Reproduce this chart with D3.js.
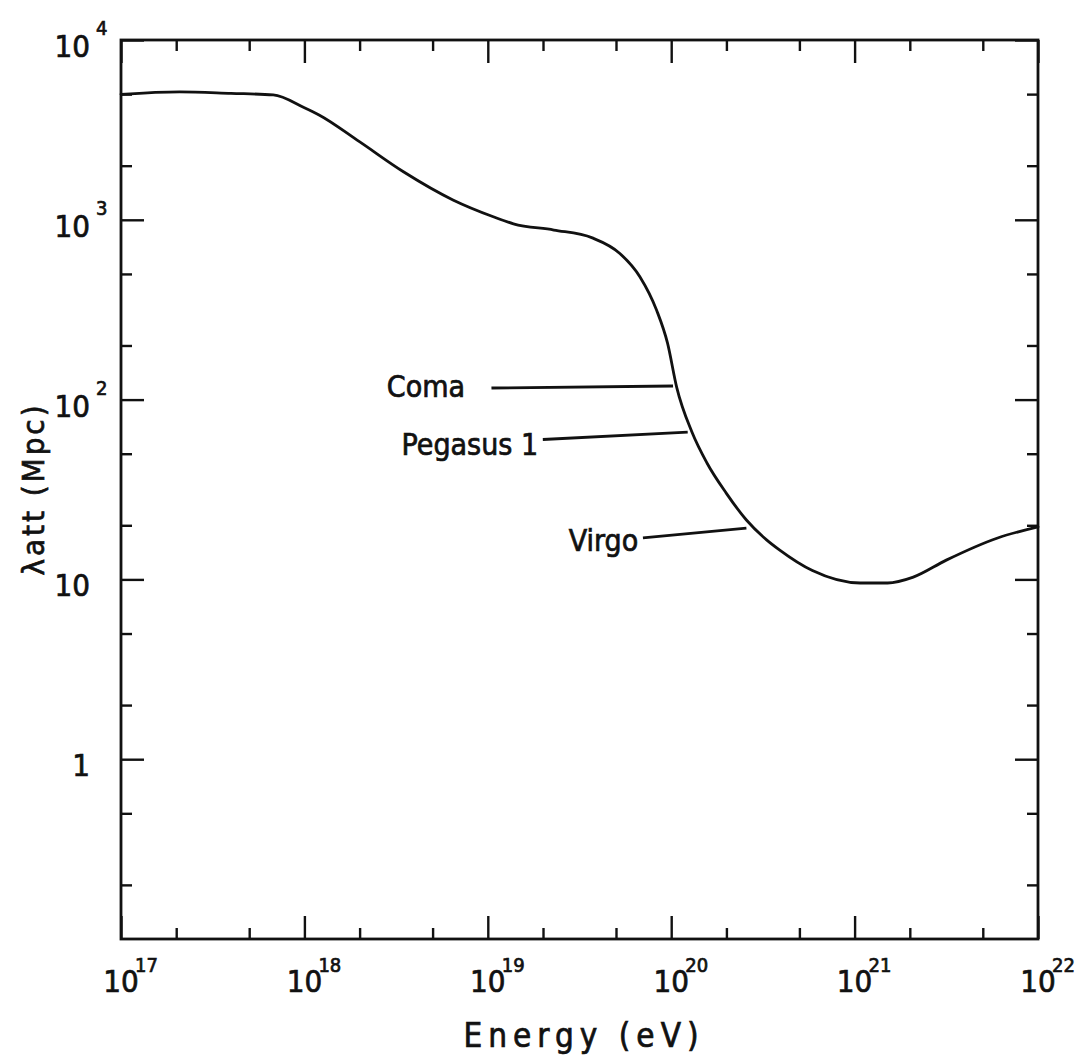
<!DOCTYPE html>
<html>
<head>
<meta charset="utf-8">
<script src="https://cdn.jsdelivr.net/npm/d3@7/dist/d3.min.js"></script>
<style>
  html, body { margin: 0; padding: 0; background: #fff; }
  svg { display: block; }
  text { font-family: "Liberation Sans Narrow", "DejaVu Sans Condensed", "Liberation Sans", sans-serif; fill: #111; stroke: #111; stroke-width: 0.7px; }
</style>
</head>
<body>
<svg id="chart" width="1088" height="1057"></svg>
<script>
// ---- data ----
const logEnergy = [17.0, 17.32, 17.6, 17.83, 18.0, 18.08, 18.30, 18.54, 18.81, 19.03, 19.14, 19.36, 19.57, 19.72, 19.83, 19.92, 19.98, 20.03, 20.113, 20.195, 20.30, 20.41, 20.52, 20.59, 20.77, 21.03, 21.18, 21.32, 21.50, 21.78, 22.0];
const lambdaMpc = [4990, 5150, 5050, 4950, 4200, 3830, 2720, 1850, 1290, 1040, 950, 877, 793, 650, 481, 315, 206, 117, 66, 44.4, 30.2, 21.4, 16.6, 14.6, 11.2, 9.55, 9.55, 10.3, 12.8, 17, 19.6];

const xTickExponents = [17, 18, 19, 20, 21, 22];
const xTickBase = ["10", "10", "10", "10", "10", "10"];
const xTickSup = ["17", "18", "19", "20", "21", "22"];
const xMinorMantissas = [2, 5];

const yTickValues = [1, 10, 100, 1000, 10000];
const yTickBase = ["1", "10", "10", "10", "10"];
const yTickSup = ["", "", "2", "3", "4"];
const yMinorValues = [0.2, 0.5, 2, 5, 20, 50, 200, 500, 2000, 5000];

const annotationLabels = ["Coma", "Pegasus 1", "Virgo"];
const annotationCurveLogE = [20.01, 20.09, 20.41];
const annotationCurveLambda = [119, 66, 19.3];
const annotationStartLogE = [19.02, 19.30, 19.846];
const annotationStartLambda = [116, 60, 17];
const annotationTextLogE = [18.876, 19.274, 19.82];
const annotationTextLambda = [103, 49, 14.4];

const xLabel = "Energy (eV)";
const yLabel = "λatt (Mpc)";

// ---- layout ----
const mLeft = 121, mRight = 1038, mTop = 40, mBottom = 939;
const svg = d3.select("#chart");

const x = d3.scaleLog().domain([1e17, 1e22]).range([mLeft, mRight]);
const y = d3.scaleLog().domain([0.1, 1e4]).range([mBottom, mTop]);
const E = e => Math.pow(10, e);

const xMajor = xTickExponents.map(E);
const xMinor = [];
xTickExponents.slice(0, -1).forEach(e => xMinorMantissas.forEach(m => xMinor.push(m * E(e))));

const stroke = "#111";

function styleAxis(g) {
  g.select(".domain").remove();
  g.selectAll(".tick line").attr("stroke", stroke).attr("stroke-width", 2.4);
}

const majorLen = 23, minorLen = 11;

// bottom
svg.append("g").attr("transform", `translate(0,${mBottom})`)
  .call(d3.axisBottom(x).tickValues(xMajor).tickSize(-majorLen).tickFormat("")).call(styleAxis);
svg.append("g").attr("transform", `translate(0,${mBottom})`)
  .call(d3.axisBottom(x).tickValues(xMinor).tickSize(-minorLen).tickFormat("")).call(styleAxis);
// top
svg.append("g").attr("transform", `translate(0,${mTop})`)
  .call(d3.axisTop(x).tickValues(xMajor).tickSize(-majorLen).tickFormat("")).call(styleAxis);
svg.append("g").attr("transform", `translate(0,${mTop})`)
  .call(d3.axisTop(x).tickValues(xMinor).tickSize(-minorLen).tickFormat("")).call(styleAxis);
// left
svg.append("g").attr("transform", `translate(${mLeft},0)`)
  .call(d3.axisLeft(y).tickValues(yTickValues).tickSize(-majorLen).tickFormat("")).call(styleAxis);
svg.append("g").attr("transform", `translate(${mLeft},0)`)
  .call(d3.axisLeft(y).tickValues(yMinorValues).tickSize(-minorLen).tickFormat("")).call(styleAxis);
// right
svg.append("g").attr("transform", `translate(${mRight},0)`)
  .call(d3.axisRight(y).tickValues(yTickValues).tickSize(-majorLen).tickFormat("")).call(styleAxis);
svg.append("g").attr("transform", `translate(${mRight},0)`)
  .call(d3.axisRight(y).tickValues(yMinorValues).tickSize(-minorLen).tickFormat("")).call(styleAxis);

// frame
svg.append("rect").attr("x", mLeft).attr("y", mTop).attr("width", mRight - mLeft).attr("height", mBottom - mTop)
  .attr("fill", "none").attr("stroke", stroke).attr("stroke-width", 2.8);

// x tick labels
const xl = svg.append("g");
xTickExponents.forEach((e, i) => {
  const px = x(E(e));
  xl.append("text").attr("x", px).attr("y", mBottom + 53).attr("text-anchor", "middle")
    .attr("font-size", 31).text(xTickBase[i]);
  xl.append("text").attr("x", px + 14).attr("y", mBottom + 33).attr("text-anchor", "start")
    .attr("font-size", 20).text(xTickSup[i]);
});

// y tick labels
const yl = svg.append("g");
yTickValues.forEach((v, i) => {
  const py = y(v);
  yl.append("text").attr("x", 90).attr("y", py + 17).attr("text-anchor", "end")
    .attr("font-size", 31).text(yTickBase[i]);
  if (yTickSup[i]) {
    yl.append("text").attr("x", 96).attr("y", py - 5).attr("text-anchor", "start")
      .attr("font-size", 20).text(yTickSup[i]);
  }
});

// axis titles
svg.append("text").attr("x", 584).attr("y", 1047).attr("text-anchor", "middle")
  .attr("font-size", 33).attr("letter-spacing", 6).text(xLabel);
svg.append("text").attr("transform", "translate(44,489) rotate(-90)").attr("text-anchor", "middle")
  .attr("font-size", 31).attr("letter-spacing", 3).text(yLabel);

// curve
const pts = logEnergy.map((e, i) => [E(e), lambdaMpc[i]]);
const line = d3.line().x(d => x(d[0])).y(d => y(d[1])).curve(d3.curveMonotoneX);
svg.append("path").datum(pts).attr("d", line)
  .attr("fill", "none").attr("stroke", stroke).attr("stroke-width", 2.8)
  .attr("stroke-linejoin", "round").attr("stroke-linecap", "round");

// annotations
annotationLabels.forEach((lab, i) => {
  svg.append("line")
    .attr("x1", x(E(annotationStartLogE[i]))).attr("y1", y(annotationStartLambda[i]))
    .attr("x2", x(E(annotationCurveLogE[i]))).attr("y2", y(annotationCurveLambda[i]))
    .attr("stroke", stroke).attr("stroke-width", 2.8);
  svg.append("text")
    .attr("x", x(E(annotationTextLogE[i]))).attr("y", y(annotationTextLambda[i]))
    .attr("text-anchor", "end").attr("font-size", 30).text(lab);
});
</script>
</body>
</html>
